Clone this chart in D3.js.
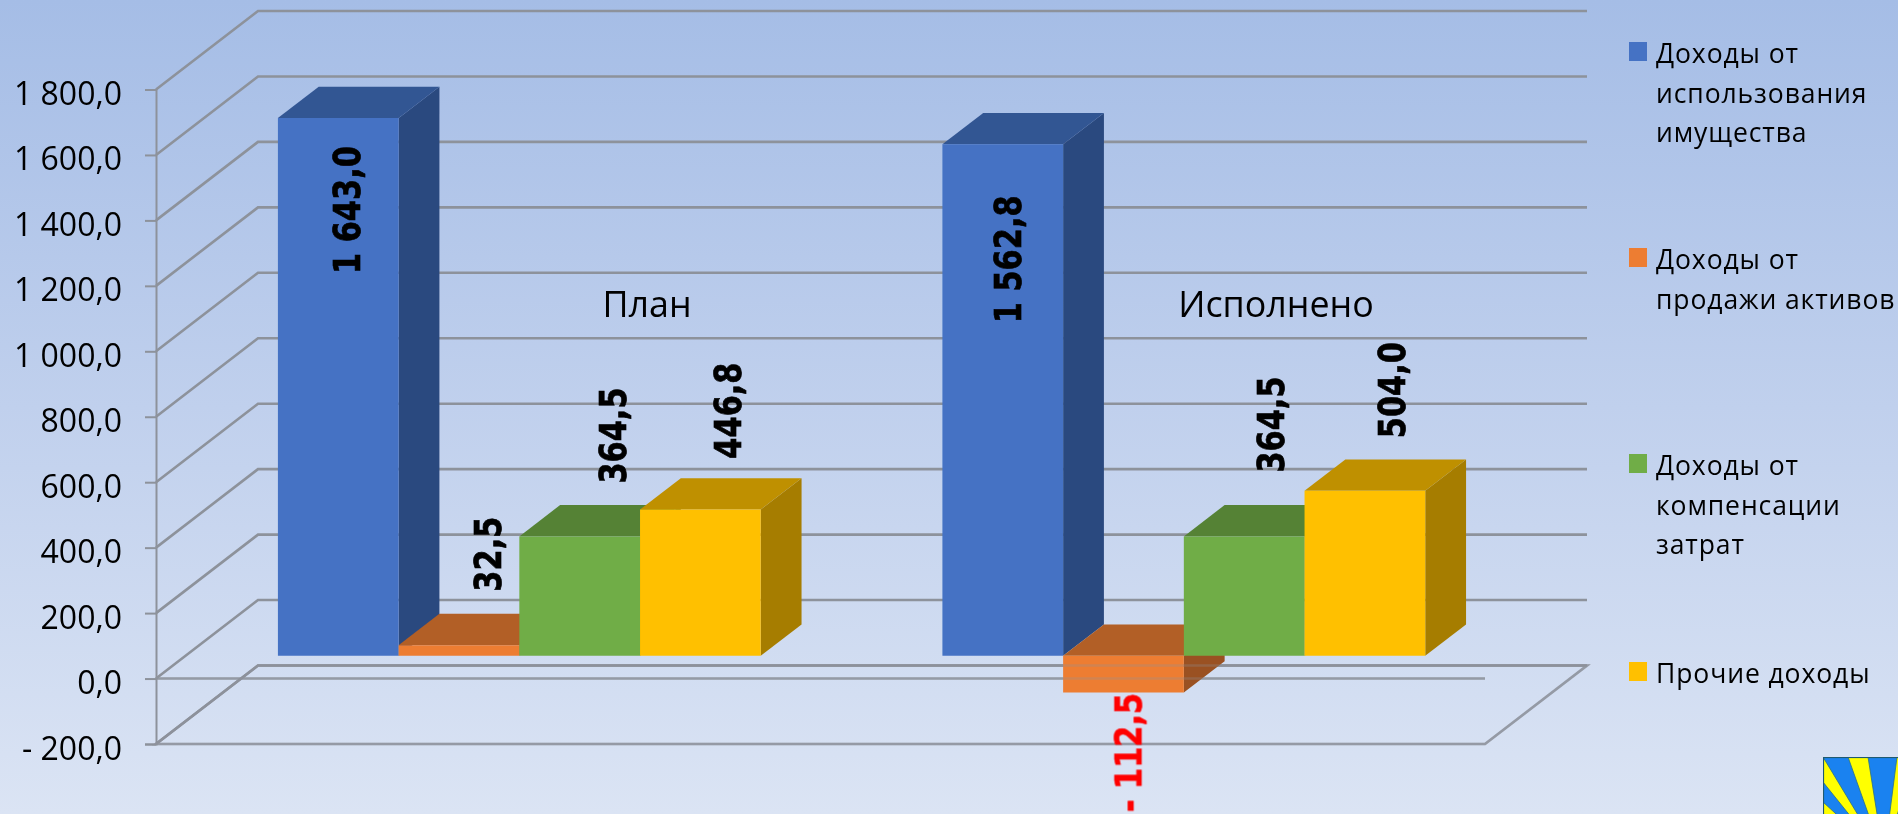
<!DOCTYPE html>
<html>
<head>
<meta charset="utf-8">
<script src="https://cdn.jsdelivr.net/npm/d3@7"></script>
<style>
  html, body { margin: 0; padding: 0; overflow: hidden; }
  svg { display: block; }
  text { font-family: "Open Sans", "Noto Sans", sans-serif; fill: #000; }
</style>
</head>
<body>
<svg id="chart" width="1898" height="814"></svg>
<script>
const categories = ["План", "Исполнено"];
const seriesNames = [
    "Доходы от использования имущества",
    "Доходы от продажи активов",
    "Доходы от компенсации затрат",
    "Прочие доходы"
];
const seriesColors = ["#4472c4", "#ed7d31", "#70ad47", "#ffc000"];
const planValues = [1643.0, 32.5, 364.5, 446.8];
const doneValues = [1562.8, -112.5, 364.5, 504.0];
const yTicks = [-200, 0, 200, 400, 600, 800, 1000, 1200, 1400, 1600, 1800];
const legendLines = [
    ["Доходы от", "использования", "имущества"],
    ["Доходы от", "продажи активов"],
    ["Доходы от", "компенсации", "затрат"],
    ["Прочие доходы"]
];

const width = 1898, height = 814;
const svg = d3.select("#chart");

svg.append("defs").html(`
  <linearGradient id="bg" x1="0" y1="0" x2="0" y2="1">
    <stop offset="0" stop-color="#a5bde6"/>
    <stop offset="0.5" stop-color="#c0d0ed"/>
    <stop offset="1" stop-color="#dbe4f4"/>
  </linearGradient>
  <filter id="soft" x="-2%" y="-2%" width="104%" height="104%">
    <feGaussianBlur stdDeviation="0.7"/>
  </filter>
  <clipPath id="logoClip"><rect x="1823" y="757" width="75" height="57"/></clipPath>
`);

svg.append("rect").attr("width", width).attr("height", height).attr("fill", "url(#bg)");

const chart = svg.append("g").attr("filter", "url(#soft)");

// fake 3d: z goes from the front plane (0) to the back wall (1)
const depthX = 102, depthY = 78.5;
const y = d3.scaleLinear().domain([-200, 1800]).range([744, 89.5]);
const x0 = d3.scaleBand().domain(categories).range([157.5, 1486.5]).paddingInner(0.2734).paddingOuter(0.1367);
const x1 = d3.scaleBand().domain(seriesNames).range([0, x0.bandwidth()]);
const wallLeft = 156, wallRight = 1485;
const zFront = 0.29, zBack = 0.69;

function pt(px, value, z) {
    return [px + z * depthX, y(value) - z * depthY];
}
const line = d3.line();
const polygon = pts => line(pts) + "Z";

const fmt = d3.formatLocale({
    decimal: ",", thousands: " ", grouping: [3], currency: ["", ""], minus: "- "
}).format(",.1f");

const gridColor = "#8d929b";

// back wall + left wall gridlines
chart.append("g").selectAll("path")
    .data(yTicks)
    .enter()
    .append("path")
    .attr("d", d => line([pt(wallLeft, d, 0), pt(wallLeft, d, 1), pt(wallRight, d, 1)]))
    .attr("fill", "none")
    .attr("stroke", gridColor)
    .attr("stroke-width", 2.6);

// value axis
const axis = chart.append("g")
    .attr("transform", `translate(${wallLeft},0)`)
    .call(d3.axisLeft(y).tickValues(yTicks).tickSize(11).tickPadding(23).tickFormat(fmt));
axis.selectAll("line, path").attr("stroke", gridColor).attr("stroke-width", 2);
axis.selectAll("text")
    .attr("font-size", 32)
    .attr("dy", "0.47em")
    .style("font-family", "'Open Sans'");

// floor and zero line
function drawFloor(opacity) {
    const floor = chart.append("g")
        .attr("fill", "none")
        .attr("stroke", gridColor)
        .attr("stroke-width", 2.6)
        .attr("stroke-opacity", opacity);
    floor.append("path")
        .attr("d", polygon([pt(wallLeft, -200, 0), pt(wallRight, -200, 0), pt(wallRight, -200, 1), pt(wallLeft, -200, 1)]));
    floor.append("path")
        .attr("d", line([pt(wallLeft, 0, 0), pt(wallRight, 0, 0)]));
}
drawFloor(0.85);

// bars, left to right so each one covers the side of the previous one
const rows = [planValues, doneValues].flatMap((vals, c) =>
    vals.map((v, s) => ({ cat: categories[c], name: seriesNames[s], color: seriesColors[s], value: v })));

function shade(color, k) {
    const c = d3.rgb(color);
    return d3.rgb(c.r * k, c.g * k, c.b * k).formatHex();
}

const bars = chart.append("g").selectAll("g")
    .data(rows)
    .enter()
    .append("g");

bars.each(function (d) {
    const g = d3.select(this);
    const left = x0(d.cat) + x1(d.name);
    const right = left + x1.bandwidth();
    const hi = Math.max(d.value, 0), lo = Math.min(d.value, 0);

    g.append("path")
        .attr("fill", shade(d.color, 0.65))
        .attr("d", polygon([pt(right, hi, zFront), pt(right, hi, zBack), pt(right, lo, zBack), pt(right, lo, zFront)]));
    g.append("path")
        .attr("fill", shade(d.color, 0.75))
        .attr("d", polygon([pt(left, hi, zFront), pt(left, hi, zBack), pt(right, hi, zBack), pt(right, hi, zFront)]));
    g.append("path")
        .attr("fill", d.color)
        .attr("d", polygon([pt(left, hi, zFront), pt(right, hi, zFront), pt(right, lo, zFront), pt(left, lo, zFront)]));
});

// faint again on top, it shows through the negative bar
drawFloor(0.3);

// data labels were moved by hand in the original, so they get their own nudges from the bar
const labelNudge = [
    [21.6, 92], [42.5, -91], [46, -101], [40.6, -99],
    [18, 115], [18, 60], [40, -112], [40.5, -100.7]
];

chart.append("g").selectAll("text")
    .data(rows)
    .enter()
    .append("text")
    .attr("transform", (d, i) => {
        const cx = x0(d.cat) + x1(d.name) + x1.bandwidth() / 2 + zFront * depthX + labelNudge[i][0];
        const cy = y(d.value) - zFront * depthY + labelNudge[i][1];
        return `translate(${cx},${cy}) rotate(-90) scale(0.8,1)`;
    })
    .attr("text-anchor", "middle")
    .attr("font-size", 38)
    .attr("font-weight", 700)
    .attr("stroke-width", 0.7)
    .style("font-family", "'DejaVu Sans'")
    .style("fill", d => d.value < 0 ? "#ff0000" : "#000")
    .style("stroke", d => d.value < 0 ? "#ff0000" : "#000")
    .text(d => fmt(d.value));

// category names sit inside the plot
const catLabelX = [647, 1276];
chart.append("g").selectAll("text")
    .data(categories)
    .enter()
    .append("text")
    .attr("x", (d, i) => catLabelX[i])
    .attr("y", 317)
    .attr("text-anchor", "middle")
    .attr("font-size", 35.8)
    .text(d => d);

// legend
const legendTop = [42, 248, 454, 662];
const legend = chart.append("g").selectAll("g")
    .data(seriesNames)
    .enter()
    .append("g")
    .attr("transform", (d, i) => `translate(1629,${legendTop[i]})`);

legend.append("rect")
    .attr("width", 18)
    .attr("height", 19)
    .attr("fill", (d, i) => seriesColors[i]);

legend.each(function (d, i) {
    d3.select(this).selectAll("text")
        .data(legendLines[i])
        .enter()
        .append("text")
        .attr("x", 27)
        .attr("y", (t, j) => 21 + j * 39.5)
        .attr("font-size", 26.5)
        .attr("letter-spacing", 0.9)
        .text(t => t);
});

// coat of arms corner, cut by the window
const logo = svg.append("g").attr("clip-path", "url(#logoClip)");
logo.append("rect")
    .attr("x", 1823).attr("y", 757).attr("width", 75).attr("height", 57)
    .attr("fill", "#1a82f0");
const rayCentre = [1884, 858];
const rays = [
    [[1823, 757], [1823, 782]],
    [[1823, 802], [1823, 840]],
    [[1848, 757], [1868, 757]],
    [[1897, 757], [1915, 757]]
];
logo.selectAll("path")
    .data(rays)
    .enter()
    .append("path")
    .attr("d", d => polygon([rayCentre, d[0], d[1]]))
    .attr("fill", "#ffff00")
    .attr("stroke", "#2a6f8a")
    .attr("stroke-width", 0.8);
logo.append("rect")
    .attr("x", 1823.5).attr("y", 757.5).attr("width", 80).attr("height", 70)
    .attr("fill", "none")
    .attr("stroke", "#1f5a70")
    .attr("stroke-width", 1.2);
</script>
</body>
</html>
